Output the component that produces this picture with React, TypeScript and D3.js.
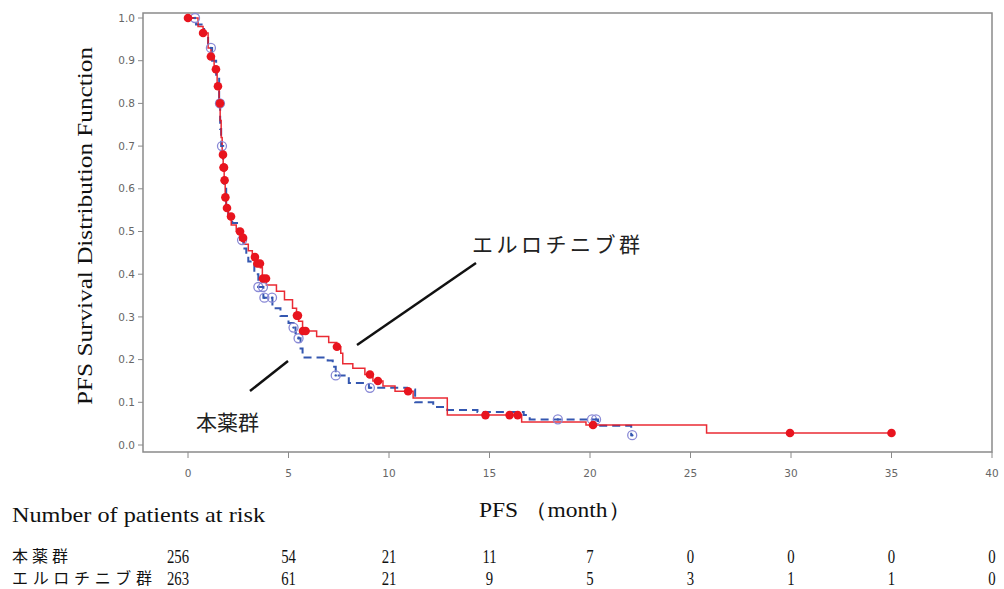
import React from "react";
import * as d3 from "d3";

// Erlotinib group (red, solid)
const erlTimes = [0, 0.5, 0.75, 1.0, 1.14, 1.3, 1.45, 1.55, 1.6, 1.65, 1.7, 1.75, 1.8, 1.85, 1.9, 2.0, 2.15, 2.4, 2.6, 2.8, 3.0, 3.2, 3.35, 3.6, 3.7, 3.9, 4.4, 4.8, 5.2, 5.4, 5.5, 5.7, 6.4, 7.0, 7.4, 7.6, 7.7, 8.2, 8.8, 9.2, 9.7, 10.3, 11.2, 12.9, 16.6, 19.8, 25.8, 35];
const erlSurv = [1.0, 0.98, 0.965, 0.93, 0.91, 0.88, 0.84, 0.8, 0.76, 0.72, 0.68, 0.65, 0.62, 0.58, 0.555, 0.535, 0.515, 0.5, 0.485, 0.47, 0.455, 0.44, 0.425, 0.415, 0.39, 0.375, 0.36, 0.34, 0.32, 0.303, 0.29, 0.267, 0.254, 0.24, 0.23, 0.215, 0.19, 0.18, 0.165, 0.15, 0.138, 0.126, 0.11, 0.07, 0.054, 0.047, 0.028, 0.028];
const erlCensor = [0, 0.75, 1.14, 1.39, 1.49, 1.59, 1.74, 1.77, 1.79, 1.82, 1.86, 1.94, 2.14, 2.59, 2.74, 3.33, 3.45, 3.58, 3.73, 3.88, 5.42, 5.47, 5.72, 5.85, 7.41, 9.05, 9.45, 10.95, 14.8, 16.0, 16.4, 20.15, 29.95, 35];

// 本薬 group (blue, dashed)
const drugTimes = [0, 0.4, 0.8, 1.0, 1.2, 1.4, 1.55, 1.6, 1.65, 1.75, 1.8, 1.9, 2.0, 2.2, 2.5, 2.6, 2.75, 2.9, 3.0, 3.3, 3.5, 3.75, 4.2, 4.6, 5.0, 5.25, 5.35, 5.5, 5.6, 5.7, 6.95, 7.2, 7.35, 8.0, 9.0, 10.9, 11.3, 12.2, 12.9, 14.4, 16.7, 17.0, 20.4, 22.05, 22.1];
const drugSurv = [1.0, 0.985, 0.96, 0.93, 0.9, 0.86, 0.8, 0.74, 0.7, 0.65, 0.6, 0.56, 0.54, 0.52, 0.5, 0.48, 0.46, 0.445, 0.43, 0.4, 0.37, 0.345, 0.32, 0.302, 0.286, 0.275, 0.262, 0.25, 0.226, 0.205, 0.198, 0.183, 0.163, 0.145, 0.134, 0.13, 0.1, 0.089, 0.082, 0.077, 0.07, 0.06, 0.045, 0.023, 0.023];
const drugCensor = [0.35, 1.14, 1.59, 1.69, 2.69, 3.5, 3.73, 3.8, 4.18, 5.25, 5.5, 7.35, 9.05, 18.4, 20.1, 20.3, 22.1];

const xTicks = [0, 5, 10, 15, 20, 25, 30, 35, 40];
const yTicks = [0, 0.1, 0.2, 0.3, 0.4, 0.5, 0.6, 0.7, 0.8, 0.9, 1.0];

const groupNames = ["本薬群", "エルロチニブ群"];
const riskDrug = [256, 54, 21, 11, 7, 0, 0, 0, 0];
const riskErl = [263, 61, 21, 9, 5, 3, 1, 1, 0];

const RED = "#e8141e";
const BLUE = "#3457b0";
const CIRC = "#8a8ad6";

function stepValue(times: number[], surv: number[], t: number) {
  const i = d3.bisectRight(times, t) - 1;
  return surv[Math.max(0, Math.min(i, surv.length - 1))];
}

export default function App() {
  const W = 1004, H = 589;
  const frame = { left: 143, right: 992, top: 13, bottom: 452 };
  const x = d3.scaleLinear().domain([0, 40]).range([188, 992]);
  const y = d3.scaleLinear().domain([0, 1]).range([445, 18]);

  const line = d3
    .line<[number, number]>()
    .x((d) => x(d[0]))
    .y((d) => y(d[1]))
    .curve(d3.curveStepAfter);

  const erlPts = erlTimes.map((t, i) => [t, erlSurv[i]] as [number, number]);
  const drugPts = drugTimes.map((t, i) => [t, drugSurv[i]] as [number, number]);

  const tickFont = "'DejaVu Sans', sans-serif";
  const serif = "'Liberation Serif', 'Times New Roman', serif";
  const jp = "'Noto Sans CJK JP', sans-serif";

  return (
    <div style={{ position: "fixed", left: 0, top: 0, width: W, height: H, background: "#fff" }}>
      <svg width={W} height={H} viewBox={`0 0 ${W} ${H}`}>
        <rect x={0} y={0} width={W} height={H} fill="#fff" />
        {/* frame */}
        <rect
          x={frame.left}
          y={frame.top}
          width={frame.right - frame.left}
          height={frame.bottom - frame.top}
          fill="none"
          stroke="#8a8a8a"
          strokeWidth={1.5}
        />
        {/* y ticks */}
        {yTicks.map((v) => (
          <g key={"y" + v}>
            <line x1={frame.left - 5} x2={frame.left} y1={y(v)} y2={y(v)} stroke="#8a8a8a" strokeWidth={1} />
            <text
              x={frame.left - 8}
              y={y(v)}
              dy="0.35em"
              textAnchor="end"
              fontFamily={tickFont}
              fontSize={10.5}
              fill="#666"
            >
              {v.toFixed(1)}
            </text>
          </g>
        ))}
        {/* x ticks */}
        {xTicks.map((v) => (
          <g key={"x" + v}>
            <line x1={x(v)} x2={x(v)} y1={frame.bottom} y2={frame.bottom + 6} stroke="#8a8a8a" strokeWidth={1} />
            <text
              x={x(v)}
              y={477}
              textAnchor="middle"
              fontFamily={tickFont}
              fontSize={10.5}
              fill="#666"
            >
              {v}
            </text>
          </g>
        ))}
        {/* axis titles */}
        <text
          transform={`translate(92,226) rotate(-90)`}
          textAnchor="middle"
          fontFamily={serif}
          fontSize={21}
          textLength={358}
          lengthAdjust="spacingAndGlyphs"
          fill="#111"
        >
          PFS Survival Distribution Function
        </text>
        <text
          x={479}
          y={517}
          fontFamily={serif}
          fontSize={21}
          textLength={152}
          lengthAdjust="spacingAndGlyphs"
          fill="#111"
        >
          PFS （month）
        </text>

        {/* curves */}
        <path d={line(drugPts) || ""} fill="none" stroke={BLUE} strokeWidth={2} strokeDasharray="8,5" />
        <path d={line(erlPts) || ""} fill="none" stroke={RED} strokeWidth={1.5} opacity={0.9} />

        {/* censor markers drug */}
        {drugCensor.map((t, i) => (
          <g key={"dc" + i}>
            <circle
              cx={x(t)}
              cy={y(stepValue(drugTimes, drugSurv, t))}
              r={4.5}
              fill="none"
              stroke={CIRC}
              strokeWidth={1.3}
            />
            <circle cx={x(t)} cy={y(stepValue(drugTimes, drugSurv, t))} r={1.2} fill={BLUE} />
          </g>
        ))}
        {/* censor markers erlotinib */}
        {erlCensor.map((t, i) => (
          <circle
            key={"ec" + i}
            cx={x(t)}
            cy={y(stepValue(erlTimes, erlSurv, t))}
            r={4.3}
            fill={RED}
          />
        ))}

        {/* annotations */}
        <line x1={357} y1={345} x2={476} y2={263} stroke="#111" strokeWidth={2.5} />
        <text
          x={472}
          y={252}
          fontFamily={jp}
          fontSize={21}
          textLength={168}
          lengthAdjust="spacing"
          fill="#222"
        >
          {groupNames[1]}
        </text>
        <line x1={250} y1={391} x2={288} y2={361} stroke="#111" strokeWidth={2.5} />
        <text x={196} y={430} fontFamily={jp} fontSize={21} fill="#222">
          {groupNames[0]}
        </text>

        {/* risk table */}
        <text
          x={12}
          y={522}
          fontFamily={serif}
          fontSize={21}
          textLength={253}
          lengthAdjust="spacingAndGlyphs"
          fill="#111"
        >
          Number of patients at risk
        </text>
        <text
          x={12}
          y={562}
          fontFamily={jp}
          fontSize={16}
          textLength={56}
          lengthAdjust="spacing"
          fill="#111"
        >
          {groupNames[0]}
        </text>
        <text
          x={12}
          y={584}
          fontFamily={jp}
          fontSize={16}
          textLength={140}
          lengthAdjust="spacing"
          fill="#111"
        >
          {groupNames[1]}
        </text>
        {riskDrug.map((n, i) => (
          <text
            key={"rd" + i}
            transform={`translate(${x(xTicks[i]) - (i === 0 ? 10 : 0)},563) scale(0.82,1)`}
            textAnchor="middle"
            fontFamily={serif}
            fontSize={18}
            fill="#111"
          >
            {n}
          </text>
        ))}
        {riskErl.map((n, i) => (
          <text
            key={"re" + i}
            transform={`translate(${x(xTicks[i]) - (i === 0 ? 10 : 0)},585) scale(0.82,1)`}
            textAnchor="middle"
            fontFamily={serif}
            fontSize={18}
            fill="#111"
          >
            {n}
          </text>
        ))}
      </svg>
    </div>
  );
}
